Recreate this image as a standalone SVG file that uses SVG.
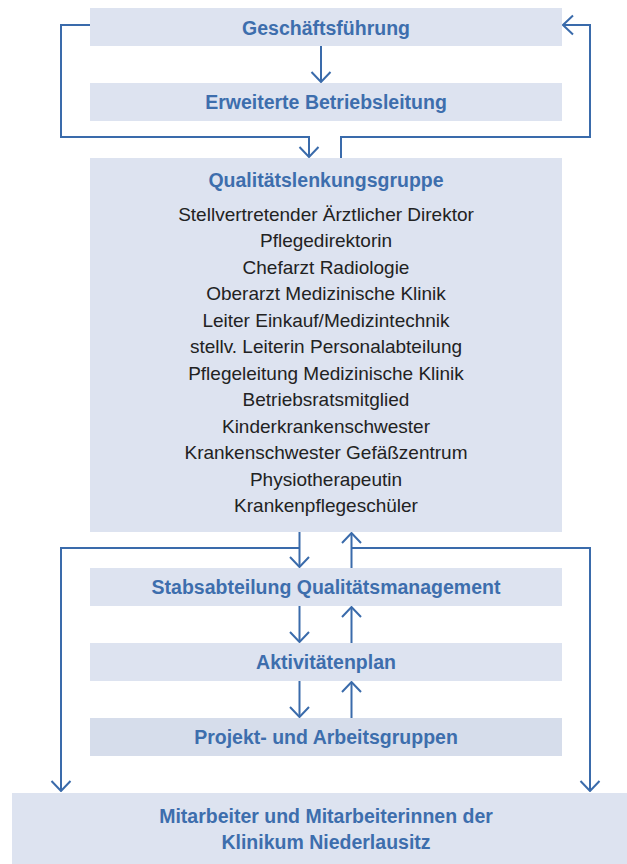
<svg xmlns="http://www.w3.org/2000/svg" width="627" height="864" viewBox="0 0 627 864">
<style>
.box{fill:#dde3f0}
.box2{fill:#d6ddeb}
.h{font-family:"Liberation Sans",Arial,sans-serif;font-weight:bold;font-size:19.5px;fill:#3d6ead;text-anchor:middle}
.t{font-family:"Liberation Sans",Arial,sans-serif;font-size:19px;fill:#222;text-anchor:middle}
.c{fill:none;stroke:#3a6bab;stroke-width:2}
</style>
<defs>
<marker id="ah" viewBox="-12 -11 13 22" markerWidth="13" markerHeight="22" refX="0" refY="0" orient="auto" markerUnits="userSpaceOnUse">
<path d="M-10,-9.5 L0,0 L-10,9.5" fill="none" stroke="#3a6bab" stroke-width="2"/>
</marker>
</defs>
<rect width="627" height="864" fill="#fff"/>
<g id="n1"><rect class="box" x="90" y="8" width="472" height="38"/><text class="h" x="326" y="34.5">Geschäftsführung</text></g>
<g id="n2"><rect class="box" x="90" y="83" width="472" height="38"/><text class="h" x="326" y="109">Erweiterte Betriebsleitung</text></g>
<g id="n3"><rect class="box" x="90" y="158" width="472" height="374"/>
<text class="h" x="326" y="187">Qualitätslenkungsgruppe</text>
<text class="t" x="326" y="220.5">Stellvertretender Ärztlicher Direktor</text>
<text class="t" x="326" y="247">Pflegedirektorin</text>
<text class="t" x="326" y="273.5">Chefarzt Radiologie</text>
<text class="t" x="326" y="300">Oberarzt Medizinische Klinik</text>
<text class="t" x="326" y="326.5">Leiter Einkauf/Medizintechnik</text>
<text class="t" x="326" y="353">stellv. Leiterin Personalabteilung</text>
<text class="t" x="326" y="379.5">Pflegeleitung Medizinische Klinik</text>
<text class="t" x="326" y="406">Betriebsratsmitglied</text>
<text class="t" x="326" y="432.5">Kinderkrankenschwester</text>
<text class="t" x="326" y="459">Krankenschwester Gefäßzentrum</text>
<text class="t" x="326" y="485.5">Physiotherapeutin</text>
<text class="t" x="326" y="512">Krankenpflegeschüler</text>
</g>
<g id="n4"><rect class="box" x="90" y="568" width="472" height="38"/><text class="h" x="326" y="594">Stabsabteilung Qualitätsmanagement</text></g>
<g id="n5"><rect class="box" x="90" y="643" width="472" height="38"/><text class="h" x="326" y="669">Aktivitätenplan</text></g>
<g id="n6"><rect class="box2" x="90" y="718" width="472" height="38"/><text class="h" x="326" y="744">Projekt- und Arbeitsgruppen</text></g>
<g id="n7"><rect class="box" x="12" y="793" width="615" height="71"/>
<text class="h" x="326" y="823">Mitarbeiter und Mitarbeiterinnen der</text>
<text class="h" x="326" y="849">Klinikum Niederlausitz</text></g>
<g id="connectors">
<path class="c" d="M321,46 V82" marker-end="url(#ah)"/>
<path class="c" d="M90,25 H61 V137 H309 V157" marker-end="url(#ah)"/>
<path class="c" d="M341,158 V137 H590 V25 H563" marker-end="url(#ah)"/>
<path class="c" d="M299.5,532 V567" marker-end="url(#ah)"/>
<path class="c" d="M299.5,548 H61 V791" marker-end="url(#ah)"/>
<path class="c" d="M351.5,568 V533" marker-end="url(#ah)"/>
<path class="c" d="M351.5,548 H590 V791" marker-end="url(#ah)"/>
<path class="c" d="M299.5,606 V642" marker-end="url(#ah)"/>
<path class="c" d="M351.5,643 V607" marker-end="url(#ah)"/>
<path class="c" d="M299.5,681 V717" marker-end="url(#ah)"/>
<path class="c" d="M351.5,718 V682" marker-end="url(#ah)"/>
</g>
</svg>
